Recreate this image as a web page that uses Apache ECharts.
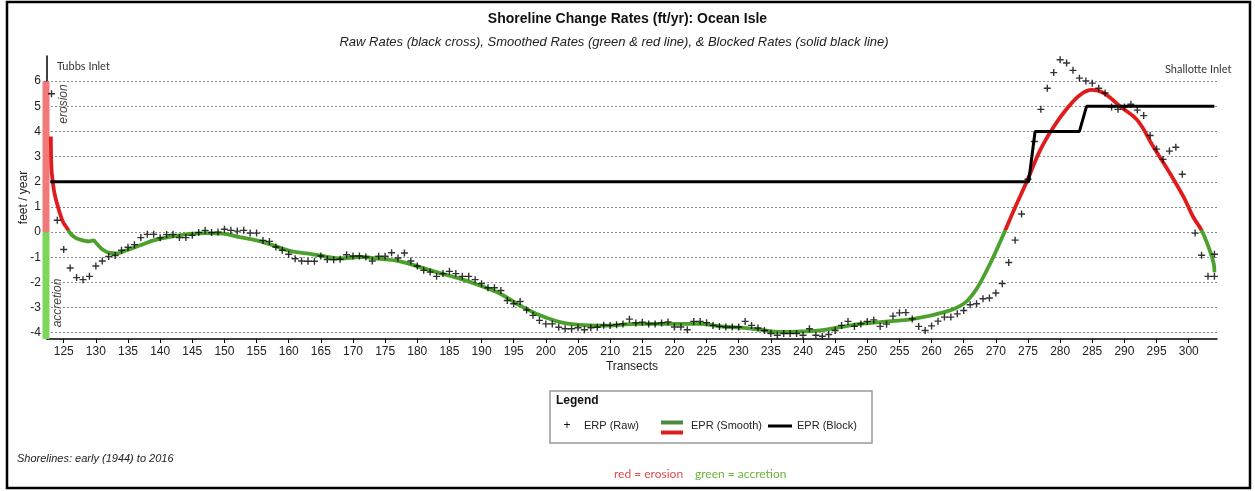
<!DOCTYPE html>
<html><head><meta charset="utf-8">
<script src="https://cdn.jsdelivr.net/npm/echarts@6/dist/echarts.min.js"></script>
<style>html,body{margin:0;padding:0;background:#fff}#c{width:1255px;height:491px}</style>
</head><body><div id="c"></div>
<script>
// ---- data ----
const xTicks = [125,130,135,140,145,150,155,160,165,170,175,180,185,190,195,200,205,210,215,220,225,230,235,240,245,250,255,260,265,270,275,280,285,290,295,300];
const yTicks = [-4,-3,-2,-1,0,1,2,3,4,5,6];

const rawTransects = [123.1,124,125,126,127,128,129,130,131,132,133,134,135,136,137,138,139,140,141,142,143,144,145,146,147,148,149,150,151,152,153,154,155,156,157,158,159,160,161,162,163,164,165,166,167,168,169,170,171,172,173,174,175,176,177,178,179,180,181,182,183,184,185,186,187,188,189,190,191,192,193,194,195,196,197,198,199,200,201,202,203,204,205,206,207,208,209,210,211,212,213,214,215,216,217,218,219,220,221,222,223,224,225,226,227,228,229,230,231,232,233,234,235,236,237,238,239,240,241,242,243,244,245,246,247,248,249,250,251,252,253,254,255,256,257,258,259,260,261,262,263,264,265,266,267,268,269,270,271,272,273,274,275,276,277,278,279,280,281,282,283,284,285,286,287,288,289,290,291,292,293,294,295,296,297,298,299,301,302,303,304,304];
const rawRates = [5.5,0.47,-0.69,-1.43,-1.81,-1.89,-1.76,-1.35,-1.15,-0.97,-0.93,-0.72,-0.6,-0.5,-0.22,-0.09,-0.09,-0.23,-0.1,-0.09,-0.22,-0.22,-0.13,-0.02,0.07,-0.02,0.0,0.11,0.07,0.04,0.07,-0.04,-0.04,-0.33,-0.37,-0.59,-0.72,-0.88,-1.06,-1.15,-1.16,-1.16,-0.95,-1.09,-1.1,-1.08,-0.9,-0.95,-0.95,-0.99,-1.15,-0.96,-0.96,-0.82,-1.03,-0.83,-1.15,-1.35,-1.52,-1.59,-1.76,-1.65,-1.56,-1.65,-1.76,-1.76,-1.89,-2.05,-2.21,-2.21,-2.32,-2.72,-2.85,-2.76,-3.1,-3.31,-3.51,-3.65,-3.65,-3.78,-3.84,-3.84,-3.8,-3.88,-3.8,-3.78,-3.7,-3.71,-3.68,-3.65,-3.46,-3.61,-3.58,-3.65,-3.65,-3.61,-3.57,-3.77,-3.77,-3.88,-3.55,-3.55,-3.6,-3.71,-3.75,-3.77,-3.77,-3.77,-3.55,-3.71,-3.81,-3.91,-4.03,-4.1,-4.03,-4.03,-4.03,-4.1,-3.84,-4.1,-4.14,-4.07,-3.91,-3.71,-3.55,-3.75,-3.65,-3.55,-3.49,-3.75,-3.66,-3.34,-3.21,-3.2,-3.45,-3.75,-3.91,-3.73,-3.54,-3.38,-3.38,-3.25,-3.12,-2.89,-2.85,-2.65,-2.62,-2.42,-2.05,-1.21,-0.32,0.72,2.1,3.6,4.88,5.72,6.34,6.85,6.72,6.43,6.12,6.01,5.92,5.72,5.53,4.97,4.88,4.97,5.08,4.85,4.63,3.84,3.3,2.89,3.22,3.37,2.3,-0.04,-0.92,-1.76,-0.88,-1.76];

const smoothTransects = [123.0,123.1,123.3,123.6,124.4,124.9,125.4,126.2,127,128,129,129.6,130.1,131.1,132.2,133.2,134.8,136.8,139.4,142,144.6,147.2,149.8,152.4,155,157.6,160.2,162.8,165.4,168,171.1,174.2,177.3,180.4,183.5,186.6,189.7,192.9,196,199.1,202.2,205.3,208.4,214.6,220.9,224,227.1,230.2,233.3,236.4,239.6,242.7,245.8,248.9,252,257.2,262.4,265,266.5,267.5,269.1,271,272.8,274.9,276.9,279,281.1,283.1,284.9,286.8,289.4,292,294.5,297.1,299.2,300.7,302,303.1,303.9,304];
const smoothRates = [3.8,2.5,2.0,1.5,0.75,0.4,0.2,-0.1,-0.25,-0.33,-0.37,-0.33,-0.45,-0.7,-0.83,-0.85,-0.72,-0.53,-0.3,-0.17,-0.07,-0.04,-0.06,-0.2,-0.33,-0.53,-0.75,-0.85,-0.96,-1.05,-0.99,-1.06,-1.16,-1.39,-1.63,-1.85,-2.12,-2.45,-2.92,-3.31,-3.58,-3.69,-3.72,-3.65,-3.65,-3.65,-3.75,-3.8,-3.88,-3.97,-3.95,-3.91,-3.78,-3.65,-3.58,-3.45,-3.15,-2.85,-2.44,-2.05,-1.26,-0.2,0.87,2.06,3.26,4.19,4.92,5.45,5.65,5.52,4.98,4.45,3.39,2.33,1.4,0.6,0.07,-0.6,-1.26,-1.6];

const blockTransects = [122.9,275.1,276.1,283.0,284.1,304.0];
const blockRates = [2,2,4,4,5,5];

const zoneBounds = [[6,0],[0,-4.25]];

// ---- chart ----
const FONT = '"Liberation Sans", Arial, sans-serif';
const XMIN = 122.4, XMAX = 304.4, YMIN = -4.25, YMAX = 7;
const GREEN = '#4ca12c', RED = '#e01b1b';
const chart = echarts.init(document.getElementById('c'), null, {renderer: 'canvas'});

const crossPath = 'path://M3,0H4.5V3H7.5V4.5H4.5V7.5H3V4.5H0V3H3Z';

chart.setOption({
  animation: false,
  backgroundColor: '#fff',
  textStyle: {fontFamily: FONT},
  title: {
    text: 'Shoreline Change Rates (ft/yr): Ocean Isle',
    left: 'center', top: 7,
    textStyle: {fontFamily: FONT, fontSize: 14, fontWeight: 'bold', color: '#111'}
  },
  grid: {left: 47, right: 38, top: 56, bottom: 152, containLabel: false},
  xAxis: {
    type: 'value', min: XMIN, max: XMAX,
    name: 'Transects', nameLocation: 'middle', nameGap: 22, nameMoveOverlap: false,
    nameTextStyle: {fontFamily: FONT, fontSize: 12, color: '#222'},
    axisLine: {show: true, onZero: false, lineStyle: {color: '#000', width: 1.5}},
    axisTick: {show: true, customValues: xTicks, length: 4, lineStyle: {color: '#000'}},
    axisLabel: {customValues: xTicks, margin: 7, fontSize: 12, color: '#222', fontFamily: FONT},
    splitLine: {show: false}
  },
  yAxis: {
    type: 'value', min: YMIN, max: YMAX,
    name: 'feet / year', nameLocation: 'middle', nameGap: 17, nameMoveOverlap: false,
    nameTextStyle: {fontFamily: FONT, fontSize: 12, color: '#222'},
    axisLine: {show: true, onZero: false, lineStyle: {color: '#000', width: 1.5}},
    axisTick: {show: true, customValues: yTicks, length: 3, lineStyle: {color: '#000'}},
    axisLabel: {customValues: yTicks, margin: 6, fontSize: 12, color: '#222', fontFamily: FONT},
    splitLine: {show: true, lineStyle: {type: [2, 2], color: '#8a8a8a', width: 1}}
  },
  visualMap: {
    type: 'piecewise', show: false, seriesIndex: 1, dimension: 1,
    pieces: [{gte: -10, lt: 0.1, color: GREEN}, {gte: 0.1, lte: 10, color: RED}]
  },
  series: [
    {
      type: 'custom', name: 'zones', z: 1, clip: false, silent: true,
      data: zoneBounds,
      renderItem: function (params, api) {
        const top = api.coord([XMIN, api.value(0)]);
        const bot = api.coord([XMIN, api.value(1)]);
        return {
          type: 'rect',
          shape: {x: top[0] - 4.5, y: top[1], width: 7, height: bot[1] - top[1]},
          style: {fill: params.dataIndex === 0 ? '#f07a7a' : '#7fd65c'}
        };
      }
    },
    {
      type: 'line', name: 'EPR (Smooth)', z: 3,
      data: smoothTransects.map((t, i) => [t, smoothRates[i]]),
      showSymbol: false, smooth: 0.4,
      lineStyle: {width: 3.8}
    },
    {
      type: 'line', name: 'EPR (Block)', z: 4,
      data: blockTransects.map((t, i) => [t, blockRates[i]]),
      showSymbol: false, color: '#000',
      lineStyle: {width: 3, color: '#000'}
    },
    {
      type: 'scatter', name: 'ERP (Raw)', z: 5,
      data: rawTransects.map((t, i) => [t, rawRates[i]]),
      symbol: crossPath, symbolSize: 7,
      itemStyle: {color: '#000'}
    }
  ],
  graphic: [
    {type: 'rect', z: 100, silent: true, shape: {x: 7, y: 2, width: 1243, height: 486},
      style: {fill: null, stroke: '#000', lineWidth: 2.5}},
    {type: 'text', x: 614, y: 42, style: {text: 'Raw Rates (black cross), Smoothed Rates (green & red line), & Blocked Rates (solid black line)',
      font: 'italic 13px ' + FONT, fill: '#222', align: 'center', verticalAlign: 'middle'}},
    {type: 'text', x: 57, y: 66, style: {text: 'Tubbs Inlet', font: '11px Lato, sans-serif', fill: '#333', verticalAlign: 'middle'}},
    {type: 'text', x: 1165, y: 69, style: {text: 'Shallotte Inlet', font: '11px Lato, sans-serif', fill: '#333', verticalAlign: 'middle'}},
    {type: 'text', x: 64, y: 104, rotation: Math.PI / 2, style: {text: 'erosion', font: 'italic 12px ' + FONT, fill: '#444', align: 'center', verticalAlign: 'middle'}},
    {type: 'text', x: 57.5, y: 303, rotation: Math.PI / 2, style: {text: 'accretion', font: 'italic 12px ' + FONT, fill: '#444', align: 'center', verticalAlign: 'middle'}},
    // legend box
    {type: 'rect', shape: {x: 550, y: 391, width: 322, height: 52}, style: {fill: '#fff', stroke: '#999', lineWidth: 1.5}},
    {type: 'text', x: 556, y: 401, style: {text: 'Legend', font: 'bold 12px ' + FONT, fill: '#111', verticalAlign: 'middle'}},
    {type: 'text', x: 567, y: 426, style: {text: '+', font: '12px ' + FONT, fill: '#111', align: 'center', verticalAlign: 'middle'}},
    {type: 'text', x: 584, y: 426, style: {text: 'ERP (Raw)', font: '11px ' + FONT, fill: '#222', verticalAlign: 'middle'}},
    {type: 'rect', shape: {x: 661, y: 420.5, width: 22, height: 4}, style: {fill: '#4e8a3e'}},
    {type: 'rect', shape: {x: 661, y: 430.5, width: 22, height: 4}, style: {fill: RED}},
    {type: 'text', x: 691, y: 426, style: {text: 'EPR (Smooth)', font: '11px ' + FONT, fill: '#222', verticalAlign: 'middle'}},
    {type: 'line', shape: {x1: 768, y1: 426, x2: 792, y2: 426}, style: {stroke: '#000', lineWidth: 3}},
    {type: 'text', x: 797, y: 426, style: {text: 'EPR (Block)', font: '11px ' + FONT, fill: '#222', verticalAlign: 'middle'}},
    {type: 'text', x: 614, y: 474, style: {text: 'red = erosion', font: '12px Lato, sans-serif', fill: '#e5484d', verticalAlign: 'middle'}},
    {type: 'text', x: 695, y: 474, style: {text: 'green = accretion', font: '12px Lato, sans-serif', fill: '#66b53a', verticalAlign: 'middle'}},
    {type: 'text', x: 17, y: 459, style: {text: 'Shorelines: early (1944) to 2016', font: 'italic 11px ' + FONT, fill: '#222', verticalAlign: 'middle'}}
  ]
});
</script>
</body></html>
